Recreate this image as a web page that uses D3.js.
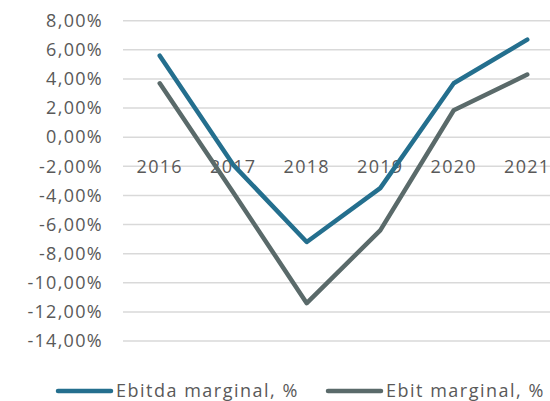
<!DOCTYPE html>
<meta charset="utf-8">
<head>
  <script src="https://d3js.org/d3.v7.min.js"></script>
  <style>
    body { margin: 0; background: #fff; font-family: 'Open Sans', sans-serif; }
    text { letter-spacing: 1.3px; }
    text.leg { letter-spacing: 1.5px; }
  </style>
</head>
<body>
<div id="chart"></div>
<script>
  const years = ["2016", "2017", "2018", "2019", "2020", "2021"]
  const ebitda = [5.6, -1.9, -7.2, -3.5, 3.7, 6.7]
  const ebit = [3.7, -3.8, -11.4, -6.4, 1.85, 4.3]
  const yTicks = [8, 6, 4, 2, 0, -2, -4, -6, -8, -10, -12, -14]
  const seriesNames = ["Ebitda marginal, %", "Ebit marginal, %"]
  const colors = ["#246f8e", "#5a6a6a"]

  const w = 550, h = 401
  const svg = d3.select("#chart").append("svg")
    .attr("width", w).attr("height", h)

  // plot runs past the right edge, like the original
  var x = d3.scaleBand().domain(years).range([123, 564])
  var y = d3.scaleLinear().domain([-14, 8]).range([341, 20.7])

  svg.append("g").selectAll("line")
    .data(yTicks).enter().append("line")
    .attr("x1", 123).attr("x2", w)
    .attr("y1", d => y(d)).attr("y2", d => y(d))
    .attr("stroke", "#d9d9d9").attr("stroke-width", 1.5)

  // plain hyphen and decimal comma
  const fmt = d => (d < 0 ? "-" : "") + Math.abs(d).toFixed(2).replace(".", ",") + "%"
  svg.append("g").selectAll("text")
    .data(yTicks).enter().append("text")
    .attr("x", 103).attr("y", d => y(d))
    .attr("dy", "0.35em")
    .attr("text-anchor", "end")
    .attr("font-size", 18)
    .attr("fill", "#595959")
    .text(fmt)

  // category labels sit on the -2% line
  svg.append("g").selectAll("text")
    .data(years).enter().append("text")
    .attr("x", d => x(d) + x.bandwidth() / 2)
    .attr("y", y(-2))
    .attr("dy", "0.35em")
    .attr("text-anchor", "middle")
    .attr("font-size", 18)
    .attr("fill", "#595959")
    .text(d => d)

  var line = d3.line()
    .x((d, i) => x(years[i]) + x.bandwidth() / 2)
    .y(d => y(d))

  ;[ebitda, ebit].forEach((s, i) => {
    svg.append("path")
      .attr("d", line(s))
      .attr("fill", "none")
      .attr("stroke", colors[i])
      .attr("stroke-width", 4.5)
      .attr("stroke-linecap", "round")
      .attr("stroke-linejoin", "round")
  })

  // legend
  const legX = [57, 327]
  seriesNames.forEach((n, i) => {
    svg.append("line")
      .attr("x1", legX[i] + 1).attr("x2", legX[i] + 54)
      .attr("y1", 391).attr("y2", 391)
      .attr("stroke", colors[i]).attr("stroke-width", 4.5)
      .attr("stroke-linecap", "round")
    svg.append("text")
      .attr("class", "leg")
      .attr("x", legX[i] + 59).attr("y", 391)
      .attr("dy", "0.35em")
      .attr("font-size", 18)
      .attr("fill", "#595959")
      .text(n)
  })
</script>
</body>
